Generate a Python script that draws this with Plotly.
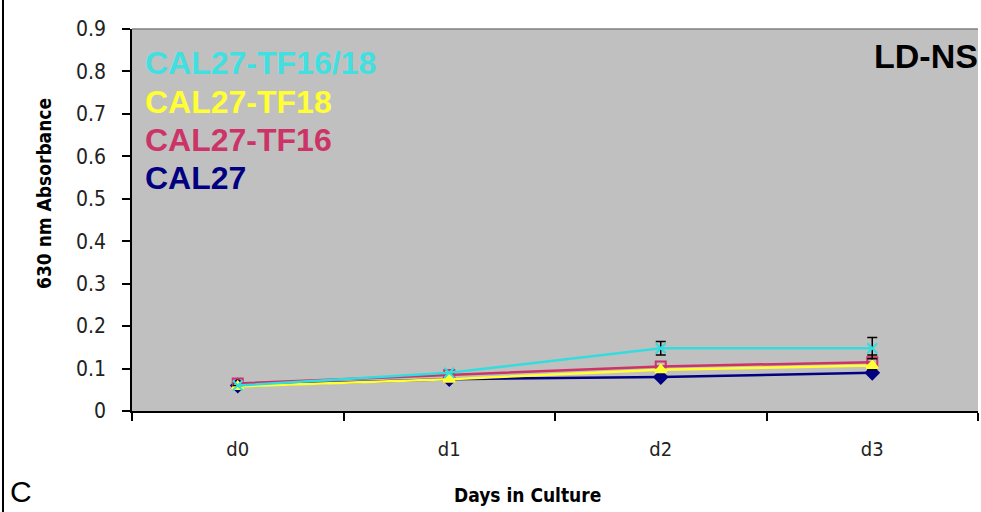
import plotly.graph_objects as go

days = ["d0", "d1", "d2", "d3"]
series_names = ["CAL27", "CAL27-TF16", "CAL27-TF18", "CAL27-TF16/18"]
cal27 = [0.06, 0.075, 0.08, 0.09]
tf16 = [0.065, 0.085, 0.105, 0.115]
tf18 = [0.058, 0.075, 0.097, 0.107]
tf1618 = [0.06, 0.09, 0.148, 0.148]
err_tf1618 = [0.0, 0.0, 0.016, 0.025]
err_tf16 = [0.0, 0.0, 0.0, 0.017]
y_ticks = [0, 0.1, 0.2, 0.3, 0.4, 0.5, 0.6, 0.7, 0.8, 0.9]

colors = ["#000080", "#CC3366", "#FFFF33", "#33DDDD"]
symbols = ["diamond", "square-open", "triangle-up", "x-thin-open"]
values = [cal27, tf16, tf18, tf1618]
errs = [None, err_tf16, None, err_tf1618]

# plot area geometry (pixels)
L, R, T, B = 132, 978, 29, 411
W, H = 981, 512
PW, PH = R - L, B - T


def px(x):
    return (x - L) / PW


def py(y):
    return (B - y) / PH


fig = go.Figure()
for name, vals, col, sym, er in zip(series_names, values, colors, symbols, errs):
    kw = {}
    if er is not None:
        kw["error_y"] = dict(type="data", array=er, visible=True, color="black", thickness=1.5, width=5)
    fig.add_trace(go.Scatter(
        x=days, y=vals, mode="lines+markers", name=name,
        line=dict(color=col, width=2.5),
        marker=dict(color=col, symbol=sym, size=10, line=dict(color=col, width=2)),
        **kw))

tick_font = "DejaVu Sans Condensed, Liberation Sans Narrow, Liberation Sans, Arial, sans-serif"
fig.update_layout(
    width=W, height=H,
    margin=dict(l=L, r=W - R, t=T, b=H - B),
    paper_bgcolor="white", plot_bgcolor="#C0C0C0",
    showlegend=False,
    xaxis=dict(type="category", tickson="boundaries", ticks="outside", ticklen=8,
               tickcolor="black", tickwidth=1.5, showline=True, linecolor="black", linewidth=1.5,
               showgrid=False, automargin=False, ticklabelstandoff=19,
               tickfont=dict(family=tick_font, size=20, color="#222"),
               range=[-0.5, 3.5]),
    yaxis=dict(range=[0, 0.9], tickvals=y_ticks, ticktext=[("0" if v == 0 else f"{v:.1f}") for v in y_ticks],
               ticks="outside", ticklen=8, tickcolor="black", tickwidth=1.5, showline=True, linecolor="black",
               linewidth=1.5, showgrid=False, zeroline=False, automargin=False, ticklabelstandoff=12,
               tickfont=dict(family=tick_font, size=21, color="#222")),
)

legend_order = [("CAL27-TF16/18", "#40E0E0", 63), ("CAL27-TF18", "#FFFF33", 102),
                ("CAL27-TF16", "#CC3366", 140), ("CAL27", "#000080", 178)]
for txt, col, yy in legend_order:
    fig.add_annotation(text=f"<b>{txt}</b>", xref="paper", yref="paper", x=px(143), y=py(yy),
                       xanchor="left", yanchor="middle", showarrow=False,
                       font=dict(family="Liberation Sans, Arial", size=32, color=col))

fig.add_annotation(text="<b>LD-NS</b>", xref="paper", yref="paper", x=px(980), y=py(56),
                   xanchor="right", yanchor="middle", showarrow=False,
                   font=dict(family="Liberation Sans, Arial", size=34, color="black"))
fig.add_annotation(text="<b>630 nm Absorbance</b>", xref="paper", yref="paper", x=px(44), y=py(194),
                   xanchor="center", yanchor="middle", showarrow=False, textangle=-90,
                   font=dict(family="DejaVu Sans Condensed, Liberation Sans, Arial", size=19, color="black"))
fig.add_annotation(text="<b>Days in Culture</b>", xref="paper", yref="paper", x=px(527), y=py(495),
                   xanchor="center", yanchor="middle", showarrow=False,
                   font=dict(family="DejaVu Sans Condensed, Liberation Sans, Arial", size=19, color="black"))
fig.add_annotation(text="C", xref="paper", yref="paper", x=px(8), y=py(510),
                   xanchor="left", yanchor="bottom", showarrow=False,
                   font=dict(family="Liberation Sans, Arial", size=30, color="black"))
fig.add_shape(type="line", xref="paper", yref="paper", x0=px(3), x1=px(3),
              y0=py(512), y1=py(0), line=dict(color="black", width=2))
fig.add_shape(type="line", xref="paper", yref="paper", x0=0, x1=1, y0=1, y1=1,
              line=dict(color="#808080", width=1.5))

fig.write_html("out.html", config={"displayModeBar": False},
               post_script="document.body.style.margin='0';document.body.style.overflow='hidden';")
